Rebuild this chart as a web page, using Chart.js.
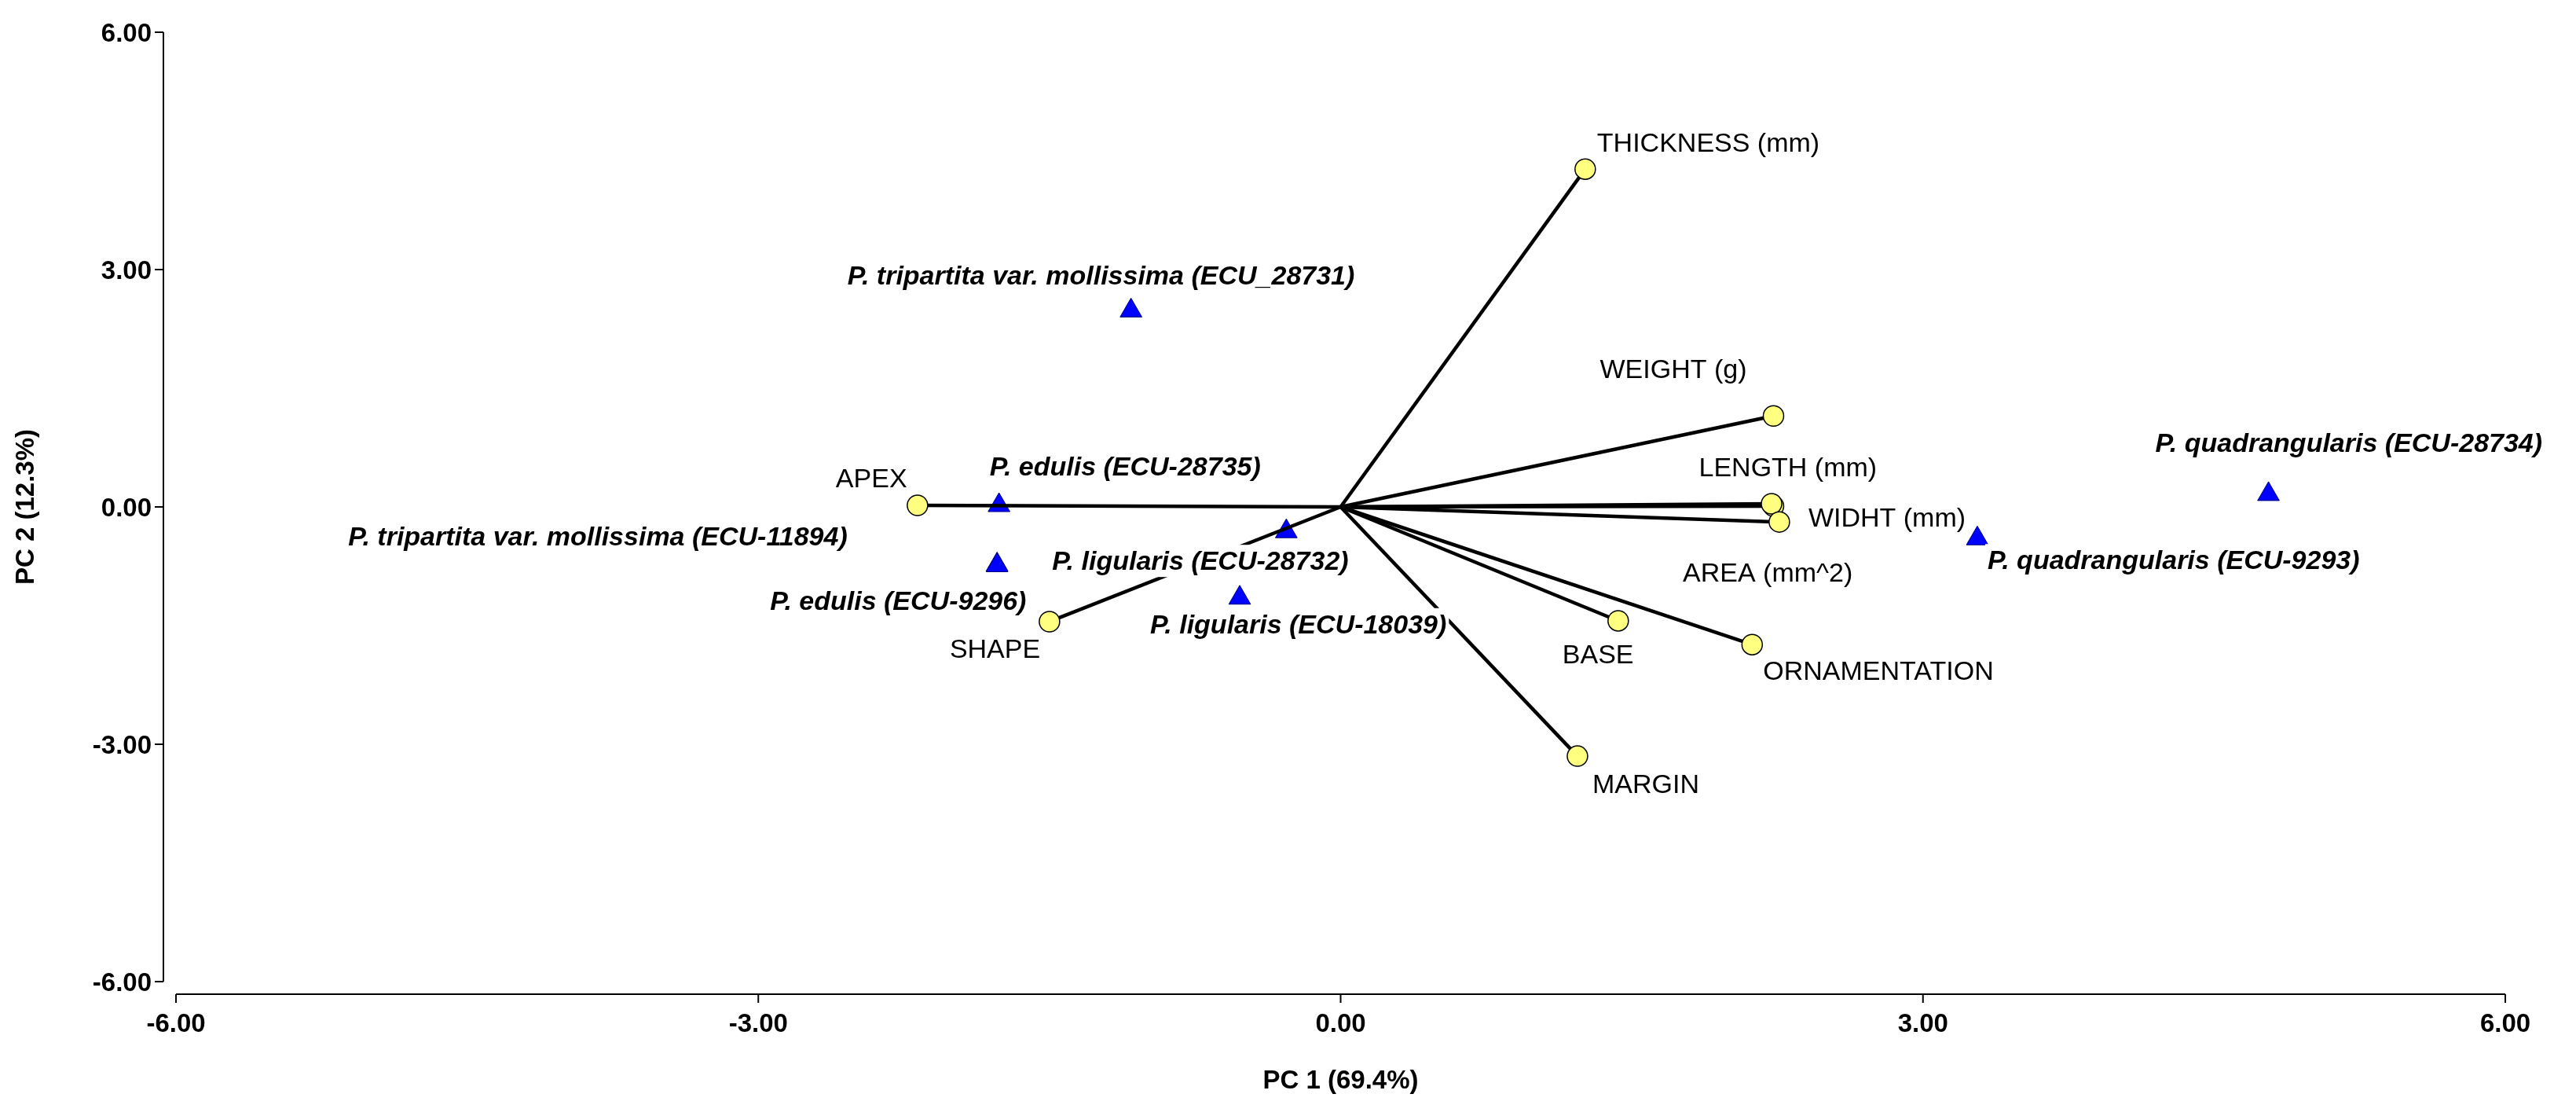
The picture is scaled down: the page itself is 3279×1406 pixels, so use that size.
<!DOCTYPE html>
<html>
<head>
<meta charset="utf-8">
<script src="https://cdn.jsdelivr.net/npm/chart.js@4.4.0/dist/chart.umd.min.js"></script>
<style>
  html, body { margin: 0; padding: 0; background: #fff; }
  #wrap { width: 3279px; height: 1406px; }
</style>
</head>
<body>
<div id="wrap"><canvas id="biplot" width="3279" height="1406"></canvas></div>
<script>
// variables (vectors)
const variables = ["THICKNESS (mm)", "WEIGHT (g)", "LENGTH (mm)", "AREA (mm^2)", "WIDHT (mm)",
  "BASE", "ORNAMENTATION", "MARGIN", "APEX", "SHAPE"];
const varPC1 = [1.26, 2.23, 2.23, 2.22, 2.26, 1.43, 2.12, 1.22, -2.18, -1.50];
const varPC2 = [4.27, 1.15, 0.01, 0.04, -0.19, -1.44, -1.74, -3.15, 0.02, -1.45];

// accessions (observations)
const accessions = [
  "P. tripartita var. mollissima (ECU_28731)",
  "P. edulis (ECU-28735)",
  "P. tripartita var. mollissima (ECU-11894)",
  "P. edulis (ECU-9296)",
  "P. ligularis (ECU-28732)",
  "P. ligularis (ECU-18039)",
  "P. quadrangularis (ECU-28734)",
  "P. quadrangularis (ECU-9293)"
];
const accPC1 = [-1.08, -1.76, -1.77, -1.77, -0.28, -0.52, 4.78, 3.28];
const accPC2 = [2.48, 0.02, -0.73, -0.74, -0.31, -1.15, 0.16, -0.40];

const tickValues = [-6, -3, 0, 3, 6];
const xTitle = "PC 1 (69.4%)";
const yTitle = "PC 2 (12.3%)";

// label placement, pixels from the point (left edge, baseline)
const varLabelOffset = [[15, -22], [-221, -48], [-95, -38], [-113, 99], [37, 6],
  [-71, 54], [14, 45], [19, 47], [-104, -23], [-127, 46]];
const accLabelOffset = [[-361, -33], [-12, -38], [-826, -24], [-289, 57],
  [-298, 49], [-114, 45], [-144, -54], [13, 39]];

const FONT = '"Liberation Sans", Arial, sans-serif';

const vectorSets = variables.map((name, i) => ({
  label: name,
  type: "line",
  data: [{ x: 0, y: 0 }, { x: varPC1[i], y: varPC2[i] }],
  borderColor: "#000",
  borderWidth: 4.5,
  pointRadius: 0,
  fill: false,
  order: 1
}));

// text with a white box behind it, like the original labels
function boxedText(ctx, text, x, y) {
  const w = ctx.measureText(text).width;
  ctx.save();
  ctx.fillStyle = "#fff";
  ctx.fillRect(x - 3, y - 32, w + 6, 41);
  ctx.restore();
  ctx.fillText(text, x, y);
}

const biplotDecor = {
  id: "biplotDecor",
  afterDatasetsDraw(chart) {
    const ctx = chart.ctx;
    const xs = chart.scales.x, ys = chart.scales.y;
    ctx.save();
    ctx.fillStyle = "#000";
    ctx.strokeStyle = "#000";
    ctx.textBaseline = "alphabetic";
    ctx.textAlign = "left";

    ctx.font = "34px " + FONT;
    variables.forEach((name, i) => {
      const px = xs.getPixelForValue(varPC1[i]);
      const py = ys.getPixelForValue(varPC2[i]);
      boxedText(ctx, name, px + varLabelOffset[i][0], py + varLabelOffset[i][1]);
    });

    ctx.font = "italic bold 34px " + FONT;
    accessions.forEach((name, i) => {
      const px = xs.getPixelForValue(accPC1[i]);
      const py = ys.getPixelForValue(accPC2[i]);
      boxedText(ctx, name, px + accLabelOffset[i][0], py + accLabelOffset[i][1]);
    });

    // detached axes
    const yAxisX = chart.chartArea.left - 16;
    const xAxisY = chart.chartArea.bottom + 16;
    const tickLen = 11;
    ctx.lineWidth = 2;
    ctx.beginPath();
    ctx.moveTo(yAxisX, ys.getPixelForValue(6));
    ctx.lineTo(yAxisX, ys.getPixelForValue(-6));
    ctx.moveTo(xs.getPixelForValue(-6), xAxisY);
    ctx.lineTo(xs.getPixelForValue(6), xAxisY);
    tickValues.forEach(v => {
      const ty = ys.getPixelForValue(v);
      ctx.moveTo(yAxisX - tickLen, ty);
      ctx.lineTo(yAxisX, ty);
      const tx = xs.getPixelForValue(v);
      ctx.moveTo(tx, xAxisY);
      ctx.lineTo(tx, xAxisY + tickLen);
    });
    ctx.stroke();

    ctx.font = "bold 33px " + FONT;
    ctx.textAlign = "right";
    tickValues.forEach(v => {
      ctx.fillText(v.toFixed(2), yAxisX - 15, ys.getPixelForValue(v) + 12);
    });
    ctx.textAlign = "center";
    tickValues.forEach(v => {
      ctx.fillText(v.toFixed(2), xs.getPixelForValue(v), xAxisY + 48);
    });

    // axis titles
    ctx.fillText(xTitle, (xs.left + xs.right) / 2, 1385);
    ctx.save();
    ctx.translate(43, (ys.top + ys.bottom) / 2);
    ctx.rotate(-Math.PI / 2);
    ctx.fillText(yTitle, 0, 0);
    ctx.restore();

    ctx.restore();
  }
};

new Chart(document.getElementById("biplot"), {
  type: "scatter",
  data: {
    datasets: [
      {
        label: "variables",
        data: variables.map((n, i) => ({ x: varPC1[i], y: varPC2[i] })),
        pointStyle: "circle",
        pointRadius: 13,
        backgroundColor: "#ffff80",
        borderColor: "#000",
        borderWidth: 1.5,
        order: 0
      },
      ...vectorSets,
      {
        label: "accessions",
        data: accessions.map((n, i) => ({ x: accPC1[i], y: accPC2[i] })),
        pointStyle: "triangle",
        pointRadius: 16,
        backgroundColor: "#0000ff",
        borderColor: "#00007f",
        borderWidth: 1,
        order: 2
      }
    ]
  },
  options: {
    responsive: false,
    animation: false,
    layout: { padding: { left: 224, right: 90, top: 41, bottom: 157 } },
    plugins: { legend: { display: false }, tooltip: { enabled: false } },
    scales: {
      x: { type: "linear", min: -6, max: 6, display: false },
      y: { type: "linear", min: -6, max: 6, display: false }
    }
  },
  plugins: [biplotDecor]
});
</script>
</body>
</html>
